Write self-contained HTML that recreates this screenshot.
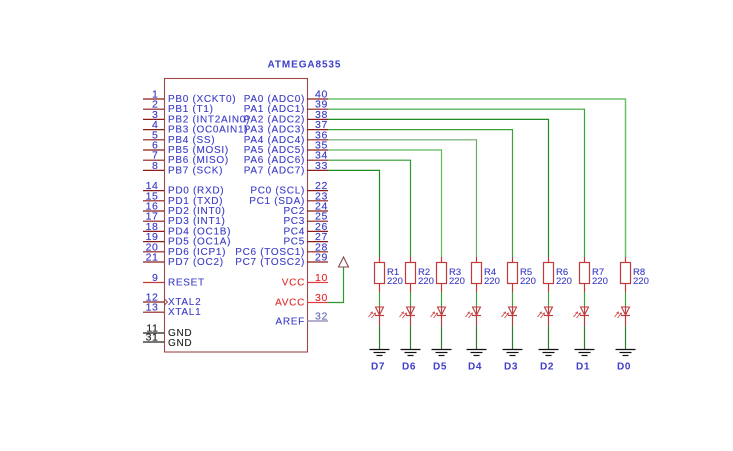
<!DOCTYPE html>
<html><head><meta charset="utf-8"><style>
html,body{margin:0;padding:0;background:#fff;}
svg{display:block;}
text{font-family:"Liberation Sans",sans-serif;}
</style></head><body>
<svg width="733" height="451" viewBox="0 0 733 451" xmlns="http://www.w3.org/2000/svg">
<rect width="733" height="451" fill="#fff"/>
<!-- title -->
<text x="267.5" y="67.5" font-size="10" font-weight="bold" fill="#3d3dc8" letter-spacing="0.9">ATMEGA8535</text>
<!-- chip -->
<rect x="164.5" y="78.5" width="143" height="273.5" fill="none" stroke="#a04848" stroke-width="1.1"/>

<!-- left pin lines -->
<g stroke="#8b1c1c" stroke-width="1.2">
<line x1="143" y1="99" x2="164" y2="99"/>
<line x1="143" y1="109.2" x2="164" y2="109.2"/>
<line x1="143" y1="119.4" x2="164" y2="119.4"/>
<line x1="143" y1="129.6" x2="164" y2="129.6"/>
<line x1="143" y1="139.8" x2="164" y2="139.8"/>
<line x1="143" y1="150" x2="164" y2="150"/>
<line x1="143" y1="160.2" x2="164" y2="160.2"/>
<line x1="143" y1="170.4" x2="164" y2="170.4"/>
<line x1="143" y1="190.6" x2="164" y2="190.6"/>
<line x1="143" y1="200.8" x2="164" y2="200.8"/>
<line x1="143" y1="211" x2="164" y2="211"/>
<line x1="143" y1="221.2" x2="164" y2="221.2"/>
<line x1="143" y1="231.4" x2="164" y2="231.4"/>
<line x1="143" y1="241.6" x2="164" y2="241.6"/>
<line x1="143" y1="251.8" x2="164" y2="251.8"/>
<line x1="143" y1="262" x2="164" y2="262"/>
<line x1="143" y1="282.5" x2="164" y2="282.5" stroke="#c03a3a"/>
<line x1="143" y1="302" x2="164" y2="302"/>
<line x1="143" y1="312.2" x2="164" y2="312.2"/>
<line x1="143" y1="333" x2="164" y2="333" stroke="#222"/>
<line x1="143" y1="342" x2="164" y2="342" stroke="#222"/>
</g>
<!-- right pin lines -->
<g stroke="#8b1c1c" stroke-width="1.2">
<line x1="307" y1="99" x2="328" y2="99"/>
<line x1="307" y1="109.2" x2="328" y2="109.2"/>
<line x1="307" y1="119.4" x2="328" y2="119.4"/>
<line x1="307" y1="129.6" x2="328" y2="129.6"/>
<line x1="307" y1="139.8" x2="328" y2="139.8"/>
<line x1="307" y1="150" x2="328" y2="150"/>
<line x1="307" y1="160.2" x2="328" y2="160.2"/>
<line x1="307" y1="170.4" x2="328" y2="170.4"/>
<line x1="307" y1="190.6" x2="328" y2="190.6"/>
<line x1="307" y1="200.8" x2="328" y2="200.8"/>
<line x1="307" y1="211" x2="328" y2="211"/>
<line x1="307" y1="221.2" x2="328" y2="221.2"/>
<line x1="307" y1="231.4" x2="328" y2="231.4"/>
<line x1="307" y1="241.6" x2="328" y2="241.6"/>
<line x1="307" y1="251.8" x2="328" y2="251.8"/>
<line x1="307" y1="262" x2="328" y2="262"/>
<line x1="307" y1="282.5" x2="328" y2="282.5" stroke="#e04040"/>
<line x1="307" y1="302.5" x2="328" y2="302.5" stroke="#e04040"/>
<line x1="307" y1="321" x2="328" y2="321" stroke="#8a80b0"/>
</g>

<!-- left pin numbers -->
<g font-size="10.5" fill="#3d3dc8" text-anchor="end" letter-spacing="0.6" stroke="#3d3dc8" stroke-width="0.15">
<text x="158.5" y="97.5">1</text>
<text x="158.5" y="107.7">2</text>
<text x="158.5" y="117.9">3</text>
<text x="158.5" y="128.1">4</text>
<text x="158.5" y="138.3">5</text>
<text x="158.5" y="148.5">6</text>
<text x="158.5" y="158.7">7</text>
<text x="158.5" y="168.9">8</text>
<text x="158.5" y="189.1">14</text>
<text x="158.5" y="199.3">15</text>
<text x="158.5" y="209.5">16</text>
<text x="158.5" y="219.7">17</text>
<text x="158.5" y="229.9">18</text>
<text x="158.5" y="240.1">19</text>
<text x="158.5" y="250.3">20</text>
<text x="158.5" y="260.5">21</text>
<text x="158.5" y="281">9</text>
<text x="158.5" y="300.5">12</text>
<text x="158.5" y="310.7">13</text>
<text x="158.5" y="331.5" fill="#222" stroke="#222">11</text>
<text x="158.5" y="340.5" fill="#222" stroke="#222">31</text>
</g>
<!-- right pin numbers -->
<g font-size="10.5" fill="#3d3dc8" letter-spacing="0.6" stroke="#3d3dc8" stroke-width="0.15">
<text x="315" y="97.5">40</text>
<text x="315" y="107.7">39</text>
<text x="315" y="117.9">38</text>
<text x="315" y="128.1">37</text>
<text x="315" y="138.3">36</text>
<text x="315" y="148.5">35</text>
<text x="315" y="158.7">34</text>
<text x="315" y="168.9">33</text>
<text x="315" y="189.1">22</text>
<text x="315" y="199.3">23</text>
<text x="315" y="209.5">24</text>
<text x="315" y="219.7">25</text>
<text x="315" y="229.9">26</text>
<text x="315" y="240.1">27</text>
<text x="315" y="250.3">28</text>
<text x="315" y="260.5">29</text>
<text x="315" y="281" fill="#e03030" stroke="#e03030">10</text>
<text x="315" y="301" fill="#e03030" stroke="#e03030">30</text>
<text x="315" y="319.5" fill="#6a6ab8" stroke="#6a6ab8">32</text>
</g>

<!-- left labels -->
<g font-size="10" fill="#3d3dc8" letter-spacing="0.7" stroke="#3d3dc8" stroke-width="0.12">
<text x="168" y="102">PB0 (XCKT0)</text>
<text x="168" y="112.2">PB1 (T1)</text>
<text x="168" y="122.4">PB2 (INT2AIN0)</text>
<text x="168" y="132.6">PB3 (OC0AIN1)</text>
<text x="168" y="142.8">PB4 (SS)</text>
<text x="168" y="153">PB5 (MOSI)</text>
<text x="168" y="163.2">PB6 (MISO)</text>
<text x="168" y="173.4">PB7 (SCK)</text>
<text x="168" y="193.6">PD0 (RXD)</text>
<text x="168" y="203.8">PD1 (TXD)</text>
<text x="168" y="214">PD2 (INT0)</text>
<text x="168" y="224.2">PD3 (INT1)</text>
<text x="168" y="234.4">PD4 (OC1B)</text>
<text x="168" y="244.6">PD5 (OC1A)</text>
<text x="168" y="254.8">PD6 (ICP1)</text>
<text x="168" y="265">PD7 (OC2)</text>
<text x="168" y="285.5">RESET</text>
<text x="168" y="305">XTAL2</text>
<text x="168" y="315.2">XTAL1</text>
<text x="168" y="336" fill="#222" stroke="#222">GND</text>
<text x="168" y="346" fill="#222" stroke="#222">GND</text>
</g>
<!-- clock marker -->
<polyline points="164.5,299 167.5,302 164.5,305" fill="none" stroke="#8b1c1c" stroke-width="0.8"/>

<!-- right labels -->
<g font-size="10" fill="#3d3dc8" letter-spacing="0.7" text-anchor="end" stroke="#3d3dc8" stroke-width="0.12">
<text x="305" y="102">PA0 (ADC0)</text>
<text x="305" y="112.2">PA1 (ADC1)</text>
<text x="305" y="122.4">PA2 (ADC2)</text>
<text x="305" y="132.6">PA3 (ADC3)</text>
<text x="305" y="142.8">PA4 (ADC4)</text>
<text x="305" y="153">PA5 (ADC5)</text>
<text x="305" y="163.2">PA6 (ADC6)</text>
<text x="305" y="173.4">PA7 (ADC7)</text>
<text x="305" y="193.6">PC0 (SCL)</text>
<text x="305" y="203.8">PC1 (SDA)</text>
<text x="305" y="214">PC2</text>
<text x="305" y="224.2">PC3</text>
<text x="305" y="234.4">PC4</text>
<text x="305" y="244.6">PC5</text>
<text x="305" y="254.8">PC6 (TOSC1)</text>
<text x="305" y="265">PC7 (TOSC2)</text>
<text x="305" y="285.5" fill="#e03030" stroke="#e03030">VCC</text>
<text x="305" y="305.5" fill="#e03030" stroke="#e03030">AVCC</text>
<text x="305" y="324.5">AREF</text>
</g>

<!-- VCC supply -->
<polyline points="328,302.5 343.5,302.5 343.5,267" fill="none" stroke="#2e9a2e" stroke-width="1.2"/>
<polygon points="338.5,267 348.5,267 343.5,257" fill="none" stroke="#8b4a4a" stroke-width="1.1"/>

<!-- bus wires -->
<g fill="none" stroke="#3ca33c" stroke-width="1.2">
<polyline points="328,99 625.5,99 625.5,257" stroke="#6cc06c" stroke-width="1.5"/>
<polyline points="328,109.2 584.5,109.2 584.5,257"/>
<polyline points="328,119.4 548.5,119.4 548.5,257" stroke="#1f8a1f"/>
<polyline points="328,129.6 512.5,129.6 512.5,257"/>
<polyline points="328,139.8 476.5,139.8 476.5,257" stroke="#6aaa6a"/>
<polyline points="328,150 441.5,150 441.5,257" stroke="#5cb85c"/>
<polyline points="328,160.2 410.5,160.2 410.5,257" stroke="#2e9a2e"/>
<polyline points="328,170.4 379.5,170.4 379.5,257" stroke="#1f8a1f"/>
</g>

<!-- columns: resistors, LEDs, grounds -->
<defs>
<g id="col" stroke-width="1.2">
<line x1="0" y1="257" x2="0" y2="262.5" stroke="#c03a3a"/>
<rect x="-5" y="262.5" width="10" height="21" fill="none" stroke="#c03a3a" stroke-width="1.2"/>
<line x1="0" y1="283.5" x2="0" y2="292" stroke="#c03a3a"/>
<line x1="0" y1="292" x2="0" y2="306" stroke="#3ca33c"/>
<line x1="0" y1="306" x2="0" y2="326" stroke="#b04040"/>
<polygon points="-4,307 4,307 0,315" fill="none" stroke="#c03a3a" stroke-width="1.1"/>
<line x1="-4.5" y1="315.5" x2="4.5" y2="315.5" stroke="#c03a3a"/>
<line x1="-11" y1="317" x2="-7" y2="312" stroke="#d05050" stroke-width="1"/>
<line x1="-8" y1="318" x2="-4" y2="313" stroke="#d05050" stroke-width="1"/>
<polyline points="-9,312.5 -7,312 -7.3,314" fill="none" stroke="#d05050" stroke-width="0.8"/>
<polyline points="-6,313.5 -4,313 -4.3,315" fill="none" stroke="#d05050" stroke-width="0.8"/>
<line x1="0" y1="326" x2="0" y2="349" stroke="#2e7a2e"/>
<line x1="-10" y1="349.5" x2="10" y2="349.5" stroke="#111"/>
<line x1="-6" y1="352.5" x2="6" y2="352.5" stroke="#111"/>
<line x1="-3" y1="355.5" x2="3" y2="355.5" stroke="#111"/>
</g>
</defs>
<use href="#col" x="379.5"/>
<use href="#col" x="410.5"/>
<use href="#col" x="441.5"/>
<use href="#col" x="476.5"/>
<use href="#col" x="512.5"/>
<use href="#col" x="548.5"/>
<use href="#col" x="584.5"/>
<use href="#col" x="625.5"/>

<!-- resistor labels -->
<g font-size="9.5" fill="#3d3dc8" stroke="#3d3dc8" stroke-width="0.12">
<text x="387" y="275">R1</text><text x="387" y="284">220</text>
<text x="418" y="275">R2</text><text x="418" y="284">220</text>
<text x="449" y="275">R3</text><text x="449" y="284">220</text>
<text x="484" y="275">R4</text><text x="484" y="284">220</text>
<text x="520" y="275">R5</text><text x="520" y="284">220</text>
<text x="556" y="275">R6</text><text x="556" y="284">220</text>
<text x="592" y="275">R7</text><text x="592" y="284">220</text>
<text x="633" y="275">R8</text><text x="633" y="284">220</text>
</g>

<!-- D labels -->
<g font-size="10" font-weight="bold" fill="#3d3dc8" text-anchor="middle" letter-spacing="0.6">
<text x="378" y="369.5">D7</text>
<text x="409" y="369.5">D6</text>
<text x="440" y="369.5">D5</text>
<text x="475" y="369.5">D4</text>
<text x="511" y="369.5">D3</text>
<text x="547" y="369.5">D2</text>
<text x="583" y="369.5">D1</text>
<text x="624" y="369.5">D0</text>
</g>
</svg>
</body></html>
